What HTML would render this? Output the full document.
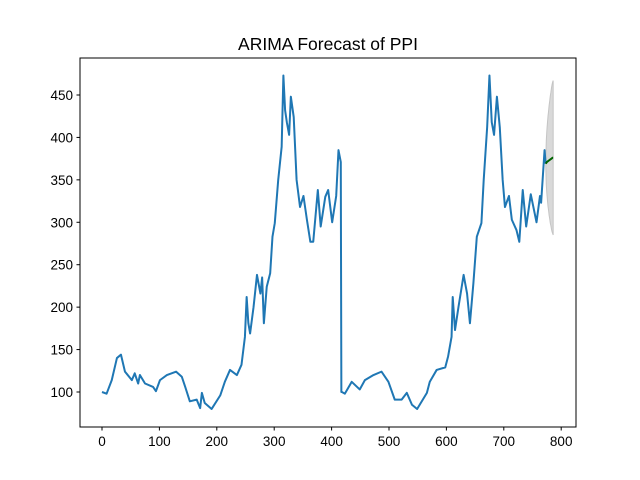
<!DOCTYPE html>
<html><head><meta charset="utf-8"><style>
body{margin:0;background:#fff;}
svg{display:block;font-family:"Liberation Sans","DejaVu Sans",sans-serif;}
</style></head><body>
<svg id="chart" width="640" height="480">
<rect width="640" height="480" fill="#fff"/>
<text x="328" y="50" text-anchor="middle" font-size="17.5">ARIMA Forecast of PPI</text>
<g id="plot"></g>
<rect x="80" y="58" width="496" height="369" fill="none" stroke="#000" stroke-width="1"/>
<g id="xticks"></g><g id="yticks"></g>
</svg>
<script>
const histX=[0,8,17,26,33,40,52,57,63,66,75,89,94,101,113,129,139,145,153,165,171,174,179,191,206,214,223,235,243,249,252,255,258,264,270,276,279,282,287,293,297,301,307,313,316,319,322,326,329,334,339,345,351,357,363,368,376,381,389,394,401,408,412,416,417,418,423,435,449,458,473,487,499,510,522,531,540,549,566,571,583,598,603,609,611,615,621,630,636,641,647,653,661,665,671,675,679,683,688,693,698,702,709,714,722,727,733,739,747,757,763,765,771,773];
const histV=[100,98,114,140,144,124,114,122,110,120,110,106,101,114,120,124,118,106,89,91,81,99,87,80,96,112,126,120,132,165,212,181,169,200,238,216,235,181,224,240,283,299,350,389,473,432,418,403,448,424,350,318,331,303,277,277,338,295,330,338,300,331,385,371,100,100,98,112,103,114,120,124,112,91,91,99,85,80,99,112,126,129,142,165,212,173,200,238,216,181,228,283,299,350,412,473,418,403,448,412,350,318,331,303,291,277,338,295,333,300,331,323,385,369];
const fcX=[773,774,775,776,777,778,779,780,781,782,783,784,785,786];
const fcMean=[369,370,371,371.5,372,372.5,373,373.5,374,374.5,375,375.5,376,376];
const fcUpper=[369,396,408,417,425,431,438,443,449,453,458,462,465,467];
const fcLower=[369,344,334,326,319,314,308,304,299,296,292,289,287,285];
const xTicks=[0,100,200,300,400,500,600,700,800];
const yTicks=[100,150,200,250,300,350,400,450];

const X=v=>102+v*0.574;
const Y=v=>392-(v-100)*0.8486;
const NS='http://www.w3.org/2000/svg';
function mk(t,a,p){const e=document.createElementNS(NS,t);for(const k in a)e.setAttribute(k,a[k]);p.appendChild(e);return e;}
const plot=document.getElementById('plot');

let bd='M'+fcX.map((x,i)=>X(x)+','+Y(fcUpper[i])).join(' L');
bd+=' L'+fcX.slice().reverse().map((x,j)=>{const i=fcX.length-1-j;return X(x)+','+Y(fcLower[i]);}).join(' L')+' Z';
const band=mk('path',{d:bd,fill:'#d9d9d9',stroke:'#c4c4c4','stroke-width':1},plot);



const hl=mk('polyline',{points:histX.map((x,i)=>X(x)+','+Y(histV[i])).join(' '),fill:'none',stroke:'#1f77b4','stroke-width':2,'stroke-linejoin':'round'},plot);



const fl=mk('polyline',{points:fcX.map((x,i)=>X(x)+','+Y(fcMean[i])).join(' '),fill:'none',stroke:'#006400','stroke-width':2},plot);



const xg=document.getElementById('xticks');
xTicks.forEach(t=>{
  const l=mk('line',{x1:X(t),x2:X(t),y1:427,y2:430.5,stroke:'#000'},xg);
  
  
  const tx=mk('text',{x:X(t),y:446,'text-anchor':'middle','font-size':13.5},xg);
  tx.textContent=t;
  
  
});
const yg=document.getElementById('yticks');
yTicks.forEach(t=>{
  const l=mk('line',{x1:76.5,x2:80,y1:Y(t),y2:Y(t),stroke:'#000'},yg);
  
  
  const tx=mk('text',{x:73,y:Y(t)+5,'text-anchor':'end','font-size':13.5},yg);
  tx.textContent=t;
  
  
});
</script>
</body></html>
